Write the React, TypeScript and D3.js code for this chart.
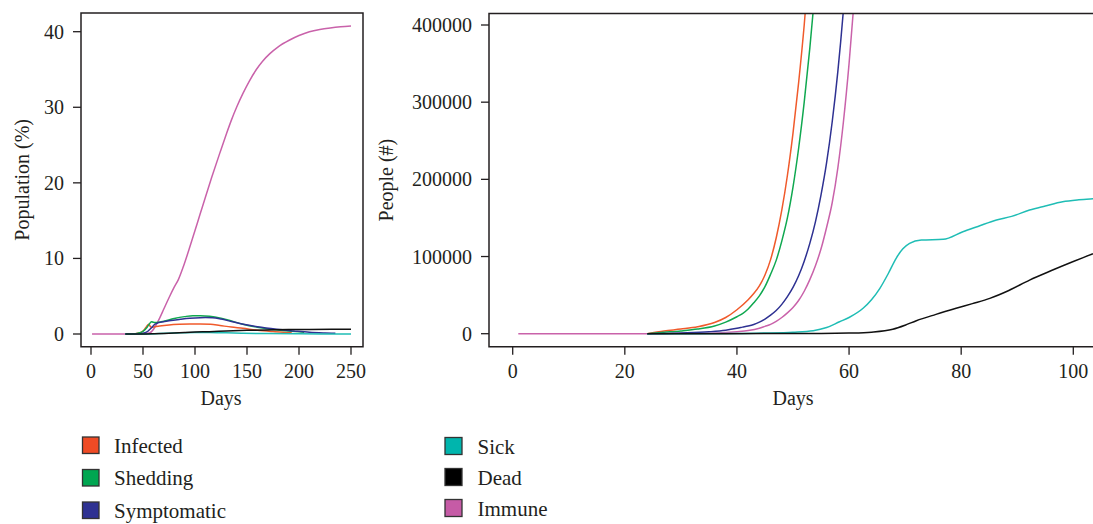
import React from "react";
import * as d3 from "d3";

type Pt = [number, number];

const seriesNames = ["Infected", "Shedding", "Symptomatic", "Sick", "Dead", "Immune"];
const seriesColors = ["#EF4B25", "#00A651", "#2E3192", "#00B5AD", "#000000", "#C65BA6"];
const lineColors = ["#F05A2B", "#10A850", "#2E3192", "#1FBDB5", "#111111", "#C962AA"];

// Left panel: population (%) over 250 days
const leftInfected: Pt[] = [[33,0],[40,0.02],[45,0.1],[50,0.4],[53,0.9],[55.5,1.3],[57,1.0],[58.5,0.85],[61,0.95],[66,1.06],[75,1.2],[85,1.28],[95,1.32],[105,1.32],[115,1.28],[124,1.12],[135,0.92],[146,0.75],[160,0.5],[175,0.32],[185,0.22],[193,0.18]];
const leftShedding: Pt[] = [[33,0],[40,0.02],[45,0.1],[50,0.35],[54,0.9],[56.5,1.4],[58.3,1.63],[60,1.55],[62,1.52],[65,1.55],[70,1.7],[80,2.05],[90,2.3],[98,2.42],[105,2.42],[114,2.36],[125,2.1],[135,1.72],[146,1.3],[160,0.9],[175,0.6],[190,0.38],[205,0.22]];
const leftSymptomatic: Pt[] = [[33,0],[45,0.02],[50,0.1],[55,0.4],[58,0.8],[61.5,1.3],[65,1.5],[75,1.75],[85.6,1.94],[95,2.08],[105,2.16],[110,2.17],[117,2.15],[125,1.98],[135,1.65],[146.5,1.28],[160,0.95],[178.5,0.62],[195,0.4],[210,0.22],[225,0.13],[235,0.09]];
const leftSick: Pt[] = [[33,0],[55,0.01],[65,0.05],[80,0.12],[100,0.2],[114,0.2],[130,0.15],[146,0.1],[170,0.06],[200,0.03],[250,0.0]];
const leftDead: Pt[] = [[33,0],[50,0],[60,0.03],[70,0.08],[80,0.14],[90,0.2],[100,0.26],[114,0.31],[130,0.4],[150,0.48],[170,0.54],[190,0.58],[210,0.6],[250,0.62]];
const leftImmune: Pt[] = [[1,0],[30,0],[45,0],[50,0.03],[56,0.12],[60,0.6],[63,1.3],[66,2.1],[70,3.3],[75,4.8],[80,6.2],[84,7.2],[89,9.0],[95,11.5],[100,13.7],[105,15.9],[110,18.1],[116,20.7],[124,24.0],[130,26.4],[135,28.3],[140,30.0],[146,31.8],[152,33.4],[159,35.0],[165,36.1],[172,37.1],[180,38.0],[191,38.9],[200,39.5],[210,40.0],[220,40.3],[230,40.5],[240,40.65],[250,40.75]];

// Right panel: people (#) over first ~105 days
const rightInfected: Pt[] = [[24,0],[27,3500],[30,6000],[33,9000],[36,14500],[38,21000],[40,31000],[42,44000],[43,52000],[44,62000],[45,76000],[46,96000],[47,124000],[48,160000],[49,205000],[50,260000],[51,325000],[52,400000],[53,490000]];
const rightShedding: Pt[] = [[24,0],[27,1800],[30,3600],[33,6000],[36,10000],[38,15000],[40,22000],[41,26000],[42,32000],[43,40000],[44,49000],[45,61000],[46,77000],[47,95000],[48,120000],[49,150000],[50,190000],[51,240000],[52,300000],[53,370000],[54,450000]];
const rightSymptomatic: Pt[] = [[24,0],[30,1000],[35,2500],[38,4500],[40,7000],[41,8500],[42,10000],[43,12000],[44,15000],[45,19000],[46,24000],[47,30000],[48,38000],[49,48000],[50,60000],[51,75000],[52,94000],[53,117000],[54,145000],[55,180000],[56,222000],[57,275000],[58,340000],[59,420000],[60,520000]];
const rightSick: Pt[] = [[24,0],[40,300],[45,900],[50,2000],[53.6,3900],[56,8000],[58.3,15500],[60,21000],[62.5,32900],[64,44000],[65.5,58800],[67,78000],[68.4,97700],[69.6,110000],[70.8,117000],[72.9,121400],[76.8,122300],[80.3,132100],[83,139000],[86.3,147300],[89,152000],[92.2,160200],[95,165500],[98.1,171000],[101,173500],[104,175000],[106,176000]];
const rightDead: Pt[] = [[24,0],[55,300],[60,800],[64,2000],[67.8,5700],[70,11000],[72,16800],[75.5,25000],[79.1,32900],[82,39000],[85.1,45800],[88.5,56000],[92.2,69500],[96,81500],[100,93500],[103.4,103200],[106,110000]];
const rightImmune: Pt[] = [[1,0],[24,0],[35,500],[40,2500],[42,4000],[44,7000],[45,9500],[46,12000],[47,16000],[48,21000],[49,27000],[50,34000],[51,43000],[52,55000],[53,70000],[54,88000],[55,110000],[56,138000],[57,170000],[58,215000],[59,275000],[60,350000],[61,440000],[62,550000]];

const leftXTicks = [0, 50, 100, 150, 200, 250];
const leftYTicks = [0, 10, 20, 30, 40];
const rightXTicks = [0, 20, 40, 60, 80, 100];
const rightYTicks = [0, 100000, 200000, 300000, 400000];

const FONT = "'Liberation Serif', 'DejaVu Serif', serif";
const INK = "#231F20";

type PanelProps = {
  id: string;
  box: { x0: number; x1: number; y0: number; y1: number };
  xs: d3.ScaleLinear<number, number>;
  ys: d3.ScaleLinear<number, number>;
  xTicks: number[];
  yTicks: number[];
  series: Pt[][];
  order: number[];
  yLabel: string;
  yLabelX: number;
};

function Panel(p: PanelProps) {
  const { box, xs, ys } = p;
  const line = d3
    .line<Pt>()
    .x((d) => xs(d[0]))
    .y((d) => ys(d[1]))
    .curve(d3.curveMonotoneX);
  const cy = (box.y0 + box.y1) / 2;
  return (
    <g>
      <defs>
        <clipPath id={p.id}>
          <rect x={box.x0} y={box.y0} width={box.x1 - box.x0} height={box.y1 - box.y0} />
        </clipPath>
      </defs>
      <g clipPath={`url(#${p.id})`}>
        {p.order.map((i) => (
          <path key={i} d={line(p.series[i]) || ""} fill="none" stroke={lineColors[i]} strokeWidth={1.5} />
        ))}
      </g>
      <path
        d={`M${box.x0},${box.y0}H${box.x1}V${box.y1}H${box.x0}Z`}
        fill="none"
        stroke={INK}
        strokeWidth={1.5}
      />
      {p.xTicks.map((t) => (
        <g key={"x" + t}>
          <line x1={xs(t)} x2={xs(t)} y1={box.y1} y2={box.y1 + 8} stroke={INK} strokeWidth={1.3} />
          <text x={xs(t)} y={378} textAnchor="middle" fontSize={20} fontFamily={FONT} fill={INK}>
            {t}
          </text>
        </g>
      ))}
      {p.yTicks.map((t) => (
        <g key={"y" + t}>
          <line x1={box.x0 - 8} x2={box.x0} y1={ys(t)} y2={ys(t)} stroke={INK} strokeWidth={1.3} />
          <text x={box.x0 - 17} y={ys(t)} dy="0.35em" textAnchor="end" fontSize={20} fontFamily={FONT} fill={INK}>
            {t}
          </text>
        </g>
      ))}
      <text
        x={xs((xs.domain()[0] + xs.domain()[1]) / 2)}
        y={405}
        textAnchor="middle"
        fontSize={20}
        fontFamily={FONT}
        fill={INK}
      >
        Days
      </text>
      <text
        transform={`translate(${p.yLabelX},${cy}) rotate(-90)`}
        textAnchor="middle"
        dy="0.35em"
        fontSize={20}
        fontFamily={FONT}
        fill={INK}
      >
        {p.yLabel}
      </text>
    </g>
  );
}

export default function App() {
  const leftX = d3.scaleLinear().domain([0, 250]).range([91, 351]);
  const leftY = d3.scaleLinear().domain([0, 40]).range([334, 31.7]);
  const rightX = d3.scaleLinear().domain([0, 100]).range([512.7, 1073.3]);
  const rightY = d3.scaleLinear().domain([0, 400000]).range([333.7, 25]);

  const leftSeries = [leftInfected, leftShedding, leftSymptomatic, leftSick, leftDead, leftImmune];
  const rightSeries = [rightInfected, rightShedding, rightSymptomatic, rightSick, rightDead, rightImmune];
  const order = [5, 0, 1, 2, 3, 4];

  const legendLeft = [0, 1, 2];
  const legendRight = [3, 4, 5];
  const leftTops = [437, 469.5, 502];
  const rightTops = [437.5, 468.5, 499.5];

  return (
    <svg
      width={1093}
      height={524}
      style={{ position: "absolute", left: 0, top: 0, background: "#fff" }}
    >
      <rect x={0} y={0} width={1093} height={524} fill="#fff" />
      <Panel
        id="clipL"
        box={{ x0: 81, x1: 363, y0: 13, y1: 346.7 }}
        xs={leftX}
        ys={leftY}
        xTicks={leftXTicks}
        yTicks={leftYTicks}
        series={leftSeries}
        order={order}
        yLabel="Population (%)"
        yLabelX={22}
      />
      <Panel
        id="clipR"
        box={{ x0: 489, x1: 1300, y0: 13.5, y1: 346.7 }}
        xs={rightX}
        ys={rightY}
        xTicks={rightXTicks}
        yTicks={rightYTicks}
        series={rightSeries}
        order={order}
        yLabel="People (#)"
        yLabelX={386}
      />
      {legendLeft.map((i, k) => (
        <g key={"ll" + i}>
          <rect x={82.5} y={leftTops[k]} width={16.5} height={16.5} fill={seriesColors[i]} stroke="#333" strokeWidth={1.3} />
          <text x={114} y={leftTops[k] + 8.5} dy="0.35em" fontSize={21} fontFamily={FONT} fill={INK}>
            {seriesNames[i]}
          </text>
        </g>
      ))}
      {legendRight.map((i, k) => (
        <g key={"lr" + i}>
          <rect x={445} y={rightTops[k]} width={17} height={17} fill={seriesColors[i]} stroke="#333" strokeWidth={1.3} />
          <text x={477.5} y={rightTops[k] + 9.5} dy="0.35em" fontSize={21} fontFamily={FONT} fill={INK}>
            {seriesNames[i]}
          </text>
        </g>
      ))}
    </svg>
  );
}
